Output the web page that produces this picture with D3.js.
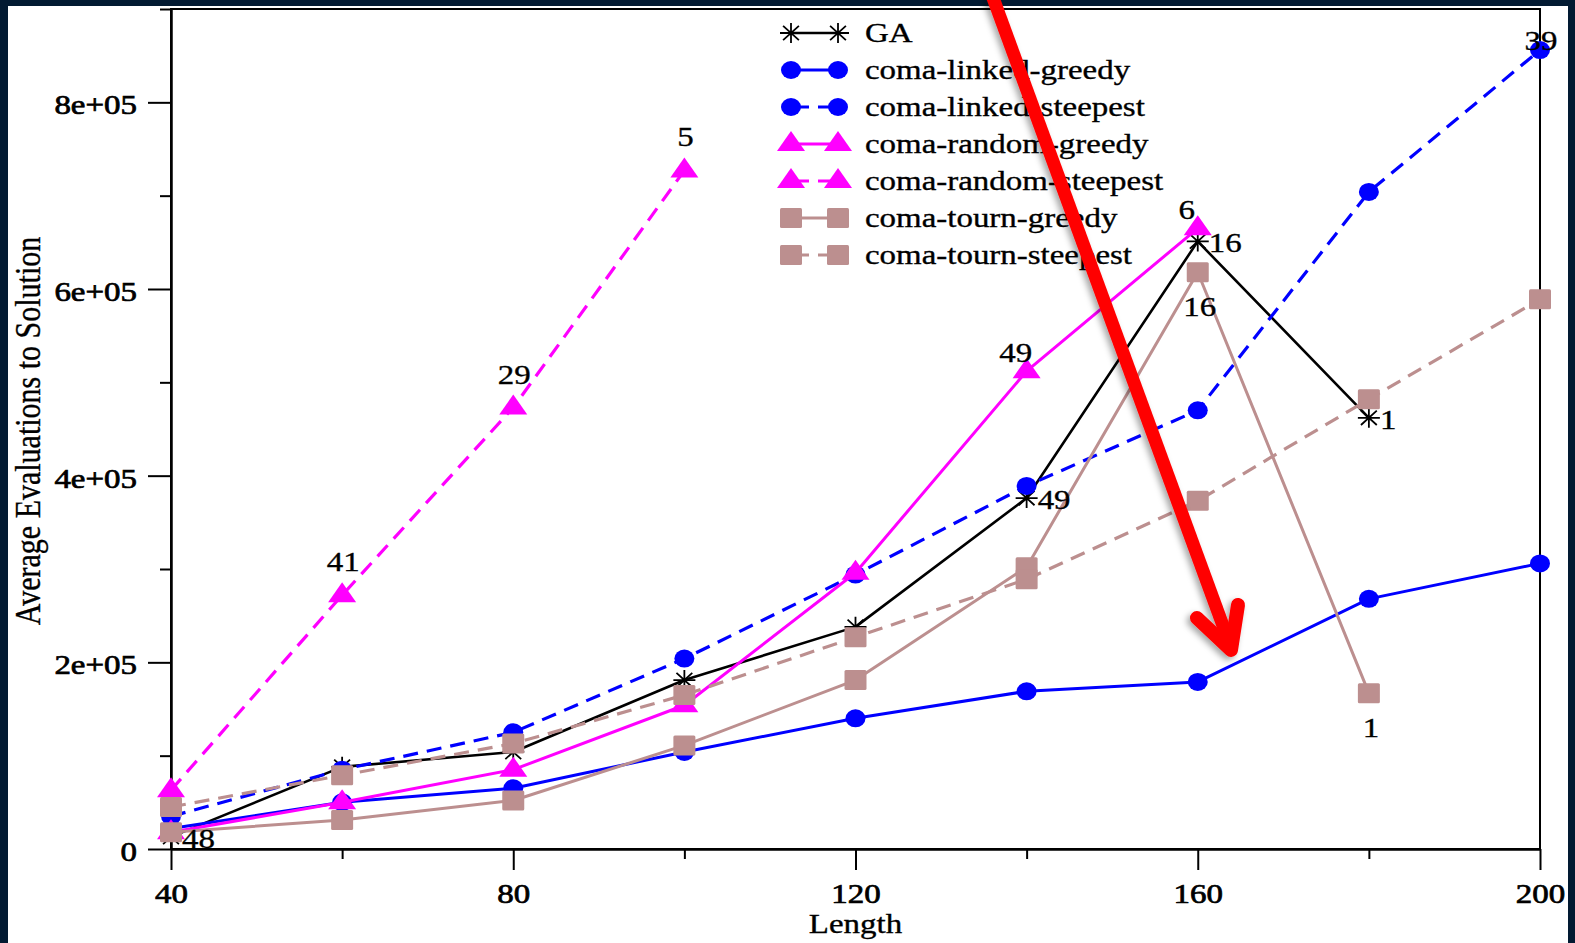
<!DOCTYPE html>
<html>
<head>
<meta charset="utf-8">
<script src="https://cdn.jsdelivr.net/npm/d3@7"></script>
<style>
  html, body { margin: 0; padding: 0; background: #021a32; }
  svg { display: block; }
  text { font-family: "Liberation Serif", "Times New Roman", serif; fill: #000; }
</style>
</head>
<body>
<svg id="chart" width="1575" height="943"></svg>
<script>
// ---------------- data ----------------
const lengths = [40, 60, 80, 100, 120, 140, 160, 180, 200];
const seriesNames = ["GA", "coma-linked-greedy", "coma-linked-steepest", "coma-random-greedy",
                     "coma-random-steepest", "coma-tourn-greedy", "coma-tourn-steepest"];
const gaValues       = [13000, 88000, 104000, 181000, 238000, 376000, 651000, 462000, null];
const linkedGreedy   = [22000, 50000, 65000, 104000, 140000, 169000, 179000, 268000, 306000];
const linkedSteepest = [35000, 85000, 125000, 204000, 294000, 389000, 470000, 704000, 856000];
const randomGreedy   = [18000, 50000, 85000, 154000, 296000, 512000, 665000, null, null];
const randomSteepest = [63000, 272000, 473000, 727000, null, null, null, null, null];
const tournGreedy    = [18000, 31000, 52000, 111000, 181000, 302000, 618000, 167000, null];
const tournSteepest  = [45000, 79000, 113000, 165000, 227000, 289000, 373000, 482000, 589000];
// run-count annotations (blank = no label)
const gaLabels             = ["48", "", "", "", "", "49", "16", "1", ""];
const linkedGreedyLabels   = ["", "", "", "", "", "", "", "", ""];
const linkedSteepestLabels = ["", "", "", "", "", "", "", "", "39"];
const randomGreedyLabels   = ["", "", "", "", "", "49", "6", "", ""];
const randomSteepestLabels = ["", "41", "29", "5", "", "", "", "", ""];
const tournGreedyLabels    = ["", "", "", "", "", "", "16", "1", ""];
const tournSteepestLabels  = ["", "", "", "", "", "", "", "", ""];
const yMajorTicks = [0, 200000, 400000, 600000, 800000];
const yMinorTicks = [100000, 300000, 500000, 700000, 900000];
const xMajorTicks = [40, 80, 120, 160, 200];
const xMinorTicks = [60, 100, 140, 180];

// ---------------- styles ----------------
const SX = 1.22;          // horizontal stretch of the original raster
const FS = 27;
const styles = [
  {color: "#000000", dash: null,   shape: "star",     lw: 2.6, lab: {dx: 11, dy: 11, anchor: "start"}},
  {color: "#0000ff", dash: null,   shape: "circle",   lw: 3,   lab: {dx: 0, dy: 0, anchor: "middle"}},
  {color: "#0000ff", dash: "15,9", shape: "circle",   lw: 3.2, lab: {dx: 1, dy: 0, anchor: "middle"}},
  {color: "#ff00ff", dash: null,   shape: "triangle", lw: 3,   lab: {dx: -11, dy: -9, anchor: "middle"}},
  {color: "#ff00ff", dash: "15,9", shape: "triangle", lw: 3.2, lab: {dx: 1, dy: -24, anchor: "middle"}},
  {color: "#bc8f8f", dash: null,   shape: "square",   lw: 3,   lab: {dx: 2, dy: 44, anchor: "middle"}},
  {color: "#bc8f8f", dash: "15,9", shape: "square",   lw: 3.2, lab: {dx: 0, dy: 44, anchor: "middle"}}
];
const values = [gaValues, linkedGreedy, linkedSteepest, randomGreedy, randomSteepest, tournGreedy, tournSteepest];
const labels = [gaLabels, linkedGreedyLabels, linkedSteepestLabels, randomGreedyLabels,
                randomSteepestLabels, tournGreedyLabels, tournSteepestLabels];

// ---------------- layout ----------------
const svg = d3.select("#chart");
svg.append("rect").attr("width", 1575).attr("height", 943).attr("fill", "#021a32");
svg.append("rect").attr("x", 8).attr("y", 6).attr("width", 1560).attr("height", 937).attr("fill", "#ffffff");

const x = d3.scaleLinear().domain([40, 200]).range([171, 1540]);
const y = d3.scaleLinear().domain([0, 900000]).range([849, 9]);

// box
svg.append("rect").attr("x", 171).attr("y", 9).attr("width", 1540 - 171).attr("height", 840)
  .attr("fill", "none").attr("stroke", "#000").attr("stroke-width", 2);

function fmtSci(d) {
  if (d === 0) return "0";
  const parts = d.toExponential().split("e");
  const sign = parts[1][0];
  const ex = parts[1].slice(1).padStart(2, "0");
  return parts[0] + "e" + sign + ex;
}
function stretchAxisText(g) {
  g.selectAll("text").each(function() {
    const t = d3.select(this);
    const tx = +t.attr("x") || 0;
    const ty = +t.attr("y") || 0;
    t.attr("x", 0).attr("y", 0).attr("transform", `translate(${tx},${ty}) scale(${SX},1)`);
  });
}
// y axis
const gy = svg.append("g").attr("transform", "translate(171,0)")
  .call(d3.axisLeft(y).tickValues(yMajorTicks).tickSize(23).tickPadding(11).tickSizeOuter(0).tickFormat(fmtSci));
svg.append("g").attr("transform", "translate(171,0)")
  .call(d3.axisLeft(y).tickValues(yMinorTicks).tickSize(11).tickSizeOuter(0).tickFormat(""));
// x axis
const gx = svg.append("g").attr("transform", "translate(0,849)")
  .call(d3.axisBottom(x).tickValues(xMajorTicks).tickSize(21).tickPadding(14).tickSizeOuter(0).tickFormat(d3.format("d")));
svg.append("g").attr("transform", "translate(0,849)")
  .call(d3.axisBottom(x).tickValues(xMinorTicks).tickSize(10).tickSizeOuter(0).tickFormat(""));
svg.selectAll(".domain").attr("stroke", "#000").attr("stroke-width", 2);
svg.selectAll(".tick line").attr("stroke", "#000").attr("stroke-width", 2);
svg.selectAll(".tick text").attr("font-size", FS).attr("fill", "#000")
  .attr("stroke", "#000").attr("stroke-width", 0.7);
gy.selectAll(".tick text").attr("dy", "0.42em");
stretchAxisText(gy);
stretchAxisText(gx);

// axis titles
svg.append("text").attr("transform", `translate(855.5,933) scale(${SX},1)`)
  .attr("text-anchor", "middle").attr("font-size", FS).attr("stroke", "#000").attr("stroke-width", 0.35)
  .text("Length");
svg.append("text").attr("transform", `translate(40,431) scale(${SX},1) rotate(-90)`)
  .attr("text-anchor", "middle").attr("font-size", 30).attr("stroke", "#000").attr("stroke-width", 0.3)
  .text("Average Evaluations to Solution");

// ---------------- markers ----------------
function drawMarker(g, shape, color, cx, cy) {
  if (shape === "circle") {
    g.append("ellipse").attr("cx", cx).attr("cy", cy).attr("rx", 10).attr("ry", 9).attr("fill", color);
  } else if (shape === "square") {
    g.append("rect").attr("x", cx - 11).attr("y", cy - 10).attr("width", 22).attr("height", 20)
      .attr("rx", 1.5).attr("fill", color);
  } else if (shape === "triangle") {
    g.append("path").attr("d", `M${cx},${cy - 13} L${cx + 14},${cy + 7} L${cx - 14},${cy + 7} Z`).attr("fill", color);
  } else if (shape === "star") {
    const rx = 11, ry = 10;
    const d = `M${cx - rx},${cy} L${cx + rx},${cy} M${cx},${cy - ry} L${cx},${cy + ry}` +
              `M${cx - rx * 0.72},${cy - ry * 0.72} L${cx + rx * 0.72},${cy + ry * 0.72}` +
              `M${cx - rx * 0.72},${cy + ry * 0.72} L${cx + rx * 0.72},${cy - ry * 0.72}`;
    g.append("path").attr("d", d).attr("stroke", color).attr("stroke-width", 1.8).attr("fill", "none");
  }
}

// ---------------- series ----------------
const line = d3.line().defined(d => d.v != null).x(d => x(d.len)).y(d => y(d.v));
values.forEach((vals, i) => {
  const st = styles[i];
  const pts = lengths.map((len, j) => ({len, v: vals[j], lab: labels[i][j]}));
  const g = svg.append("g");
  g.append("path").datum(pts).attr("d", line).attr("fill", "none")
    .attr("stroke", st.color).attr("stroke-width", st.lw)
    .attr("stroke-dasharray", st.dash).attr("stroke-linejoin", "round");
  pts.filter(p => p.v != null).forEach(p => drawMarker(g, st.shape, st.color, x(p.len), y(p.v)));
});
// annotations
values.forEach((vals, i) => {
  const st = styles[i];
  lengths.forEach((len, j) => {
    const lab = labels[i][j];
    if (!lab || vals[j] == null) return;
    svg.append("text")
      .attr("transform", `translate(${x(len) + st.lab.dx},${y(vals[j]) + st.lab.dy}) scale(${SX},1)`)
      .attr("text-anchor", st.lab.anchor).attr("font-size", FS)
      .attr("stroke", "#000").attr("stroke-width", 0.35).text(lab);
  });
});

// ---------------- legend ----------------
const leg = svg.append("g");
seriesNames.forEach((name, i) => {
  const st = styles[i];
  const cy = 33 + i * 37;
  leg.append("line").attr("x1", 791).attr("x2", 838).attr("y1", cy).attr("y2", cy)
    .attr("stroke", st.color).attr("stroke-width", st.lw)
    .attr("stroke-dasharray", st.dash ? "18,9,30" : null);
  drawMarker(leg, st.shape, st.color, 791, cy);
  drawMarker(leg, st.shape, st.color, 838, cy);
  leg.append("text").attr("transform", `translate(865,${cy + 9}) scale(${SX},1)`)
    .attr("font-size", FS).attr("stroke", "#000").attr("stroke-width", 0.35).text(name);
});

// ---------------- red arrow overlay ----------------
const defs = svg.append("defs");
const f = defs.append("filter").attr("id", "shadow").attr("x", "-20%").attr("y", "-20%").attr("width", "140%").attr("height", "140%");
f.append("feDropShadow").attr("dx", -3).attr("dy", 3).attr("stdDeviation", 3)
  .attr("flood-color", "#000").attr("flood-opacity", 0.35);
const arrow = svg.append("g").attr("filter", "url(#shadow)");
arrow.append("path").attr("d", "M992,-5 L1229,642")
  .attr("stroke", "#ff0000").attr("stroke-width", 13).attr("fill", "none").attr("stroke-linecap", "butt");
arrow.append("path").attr("d", "M1197,618 L1231,650 L1238,605")
  .attr("stroke", "#ff0000").attr("stroke-width", 14).attr("fill", "none")
  .attr("stroke-linecap", "round").attr("stroke-linejoin", "round");
</script>
</body>
</html>
